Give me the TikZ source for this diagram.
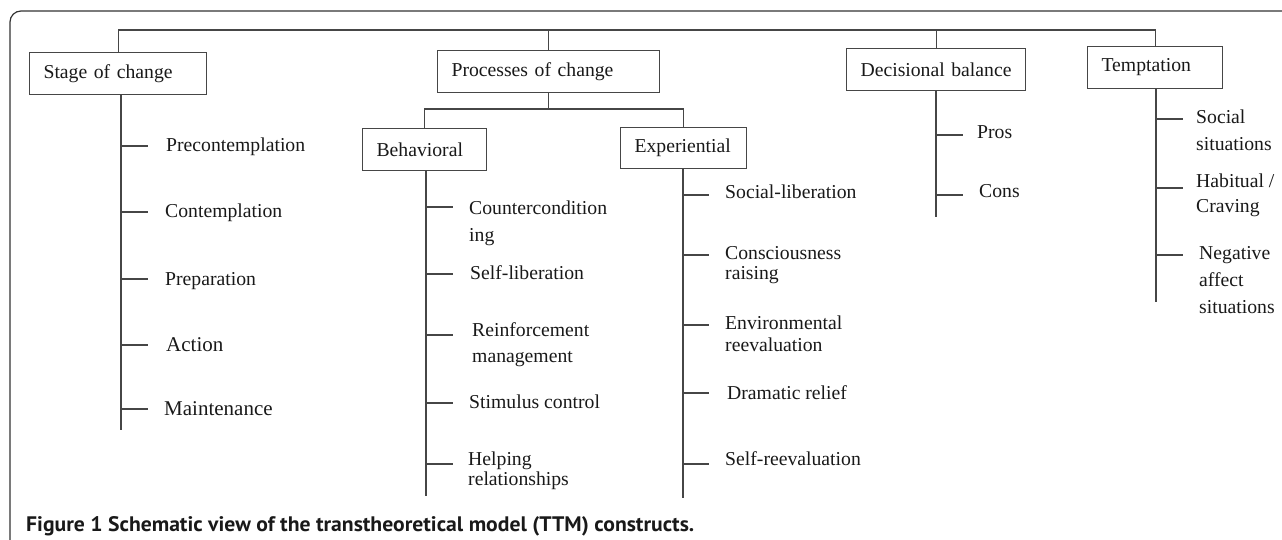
\documentclass[tikz,border=0pt]{standalone}
\usepackage{fontspec}
\setmainfont{Liberation Serif}
\newfontfamily\capfont{PT Sans}
\definecolor{lc}{RGB}{70,70,70}
\definecolor{tc}{RGB}{25,25,25}
\newlength\capw
\newcommand\fsz[2]{\fontsize{#1pt}{#2pt}\selectfont}
\newcommand\captext{Figure 1 Schematic view of the transtheoretical model (TTM) constructs.}
\begin{document}
\settowidth\capw{\capfont\bfseries\fontsize{21pt}{24pt}\selectfont\captext}
\pgfmathsetmacro{\capsx}{668/\capw}
\begin{tikzpicture}[x=1pt,y=-1pt,
  ln/.style={line width=1.1pt, draw=lc},
  box/.style={draw=lc, line width=1.1pt, anchor=north west, minimum height=42pt,
    inner xsep=14pt, inner ysep=0pt, align=left, text=tc, font=\fsz{19.7}{24}},
  lbl/.style={anchor=base west, inner sep=0pt, align=left, text=tc, font=\fsz{19.7}{#1}},
  lbl/.default=24,
  big/.style={anchor=base west, inner sep=0pt, text=tc, font=\fsz{21}{24}}
]
\useasboundingbox (0,0) rectangle (1282,540);
% frame
\draw[line width=1.2pt, draw=black!80, rounded corners=11pt] (10,545) -- (10,11) -- (1290,11);

% boxes
\node[box, text width=149pt] (soc) at (29,52) {Stage of change};
\node[box, text width=194pt] (poc) at (437,50) {Processes of change};
\node[box, text width=96pt] (beh) at (362,128) {Behavioral};
\node[box, text width=98pt, minimum height=41pt] (exp) at (620,127) {Experiential};
\node[box, text width=151pt] (dec) at (846,48) {Decisional balance};
\node[box, text width=107pt] (tem) at (1087,46) {Temptation};

% top bus
\coordinate (bus) at (0,30);
\draw[ln] (soc.north) -- (soc.north |- bus) -- (tem.north |- bus) -- (tem.north);
\draw[ln] (poc.north) -- (poc.north |- bus);
\draw[ln] (dec.north) -- (dec.north |- bus);

% processes split
\coordinate (ps) at (0,109);
\draw[ln] (poc.south) -- (poc.south |- ps);
\draw[ln] (beh.north) -- (beh.north |- ps) -- (exp.north |- ps) -- (exp.north);

% spines
\coordinate (s1) at (121,0);
\coordinate (s2) at (426,0);
\coordinate (s3) at (683,0);
\coordinate (s4) at (936,0);
\coordinate (s5) at (1156,0);
\draw[ln] (soc.south -| s1) -- (s1 |- 0,430);
\draw[ln] (beh.south -| s2) -- (s2 |- 0,496);
\draw[ln] (exp.south -| s3) -- (s3 |- 0,498);
\draw[ln] (dec.south -| s4) -- (s4 |- 0,217);
\draw[ln] (tem.south -| s5) -- (s5 |- 0,302);

% branches
\foreach \y in {146,212,279,345,409} \draw[ln] (s1 |- 0,\y) -- ++(27,0);
\foreach \y in {207,274,335,403,464} \draw[ln] (s2 |- 0,\y) -- ++(27,0);
\foreach \y in {195,255,325,393,464} \draw[ln] (s3 |- 0,\y) -- ++(26,0);
\foreach \y in {135,195} \draw[ln] (s4 |- 0,\y) -- ++(27,0);
\foreach \y in {119,188,255} \draw[ln] (s5 |- 0,\y) -- ++(27,0);

% stage labels
\node[lbl] (st1) at (166,152) {Precontemplation};
\node[lbl] (st2) at (165,218) {Contemplation};
\node[lbl] (st3) at (165,285) {Preparation};
\node[big] (st4) at (166,351) {Action};
\node[big] (st5) at (164,415) {Maintenance};

% behavioral labels (y = baseline of last line)
\node[lbl=27] (b1) at (469,241) {Countercondition\\ing};
\node[lbl] (b2) at (470,279) {Self-liberation};
\node[lbl=26] (b3) at (472,362) {Reinforcement\\management};
\node[lbl] (b4) at (469,408) {Stimulus control};
\node[lbl=20] (b5) at (468,485) {Helping\\relationships};

% experiential labels
\node[lbl] (e1) at (725,199) {Social-liberation};
\node[lbl=20] (e2) at (725,279) {Consciousness\\raising};
\node[lbl=22] (e3) at (725,351) {Environmental\\reevaluation};
\node[lbl] (e4) at (727,399) {Dramatic relief};
\node[lbl] (e5) at (725,465) {Self-reevaluation};

% decisional labels
\node[lbl] (d1) at (977,139) {Pros};
\node[lbl] (d2) at (979,198) {Cons};

% temptation labels
\node[lbl=27] (t1) at (1196,151) {Social\\situations};
\node[lbl=25] (t2) at (1196,213) {Habitual /\\Craving};
\node[lbl=27] (t3) at (1199,313) {Negative\\affect\\situations};

% caption
\node[anchor=base west, inner sep=0pt, text=black!90, font=\capfont\bfseries\fsz{21}{24}] (cap) at (26,531)
  {\scalebox{\capsx}[1]{\captext}};
\end{tikzpicture}
\end{document}
